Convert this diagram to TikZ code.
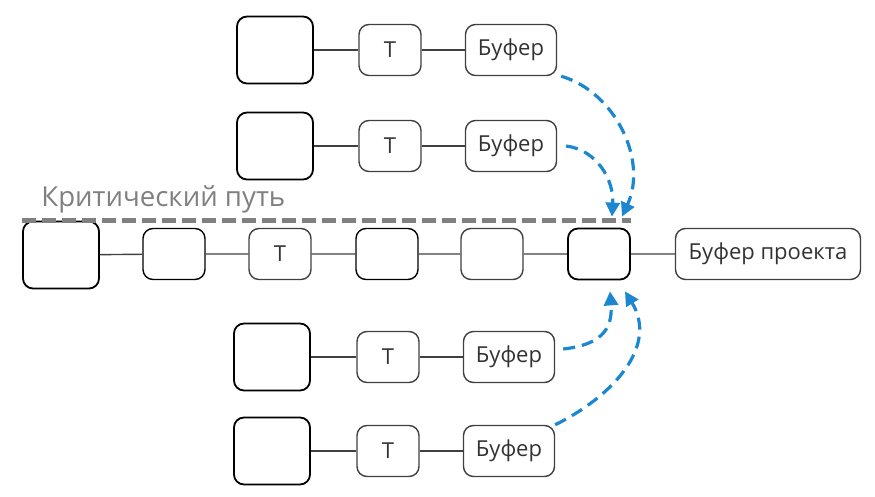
\documentclass[tikz,border=0pt]{standalone}
\usepackage{fontspec}
\setmainfont{Open Sans}
\usepackage{tikz}
\usetikzlibrary{arrows.meta}
\definecolor{boxgray}{HTML}{404040}
\definecolor{txtgray}{HTML}{333333}
\definecolor{critgray}{HTML}{808080}
\definecolor{arrblue}{HTML}{1A87D0}

\begin{document}
\begin{tikzpicture}[x=0.5pt,y=-0.5pt,
    bigbox/.style={draw=black,line width=0.9pt,rounded corners=5pt,minimum width=38pt,minimum height=33.5pt},
    taskbox/.style={draw=boxgray,line width=0.7pt,rounded corners=5pt,minimum width=31pt,minimum height=25.5pt,
        text=txtgray,font=\fontsize{11}{13}\selectfont},
    bufbox/.style={taskbox,minimum width=45.5pt},
    link/.style={draw=boxgray,line width=0.7pt},
    feed/.style={draw=arrblue,line width=1.6pt,dash pattern=on 6pt off 3.5pt,
        -{Triangle[length=7pt,width=7pt]}}]
    \useasboundingbox (0,0) rectangle (875,497);
    \node[bigbox] (b1) at (275,50) {};
    \node[taskbox] (t1) at (390,50) {Т};
    \node[bufbox] (f1) at (511,50) {Буфер};
    \node[bigbox] (b2) at (275,146) {};
    \node[taskbox] (t2) at (390,146) {Т};
    \node[bufbox] (f2) at (511,146) {Буфер};
    \node[bigbox] (c1) at (61,255) {};
    \node[taskbox,draw=black] (c2) at (174,254) {};
    \node[taskbox] (c3) at (280,254) {Т};
    \node[taskbox,draw=black] (c4) at (387,254) {};
    \node[taskbox] (c5) at (492,254) {};
    \node[taskbox,draw=black,line width=0.9pt] (c6) at (599,254) {};
    \node[taskbox,minimum width=92.5pt] (proj) at (768,254) {Буфер проекта};
    \node[bigbox] (b3) at (272,357) {};
    \node[taskbox] (t3) at (388,357) {Т};
    \node[bufbox] (f3) at (509,357) {Буфер};
    \node[bigbox] (b4) at (272,451) {};
    \node[taskbox] (t4) at (388,451) {Т};
    \node[bufbox] (f4) at (509,451) {Буфер};
    \node[anchor=west,text=critgray,font=\fontsize{13.8}{16}\selectfont,inner sep=0pt] (crit) at (41,199) {Критический путь};
    \draw[link] (b1)--(t1)--(f1);
    \draw[link] (b2)--(t2)--(f2);
    \draw[link] (c1)--(c2)--(c3)--(c4)--(c5)--(c6)--(proj);
    \draw[link] (b3)--(t3)--(f3);
    \draw[link] (b4)--(t4)--(f4);
    \draw[critgray,line width=2.6pt,dash pattern=on 7pt off 3pt] (c1.north west)--(c1.north west -| c6.east);
    \draw[feed] ([xshift=2pt]f1.south east) .. controls (615,92) and (648,160) .. ([xshift=11.5pt,yshift=5.5pt]c6.north);
    \draw[feed] ([xshift=4.5pt]f2.east) .. controls (597,150) and (614,180) .. ([xshift=6.5pt,yshift=5.5pt]c6.north);
    \draw[feed] ([xshift=4pt,yshift=4pt]f3.east) .. controls (600,345) and (613,330) .. ([xshift=5.5pt,yshift=-5.5pt]c6.south);
    \draw[feed] (f4.north east) .. controls (615,395) and (658,345) .. ([xshift=13pt,yshift=-5.5pt]c6.south);
\end{tikzpicture}
\end{document}
